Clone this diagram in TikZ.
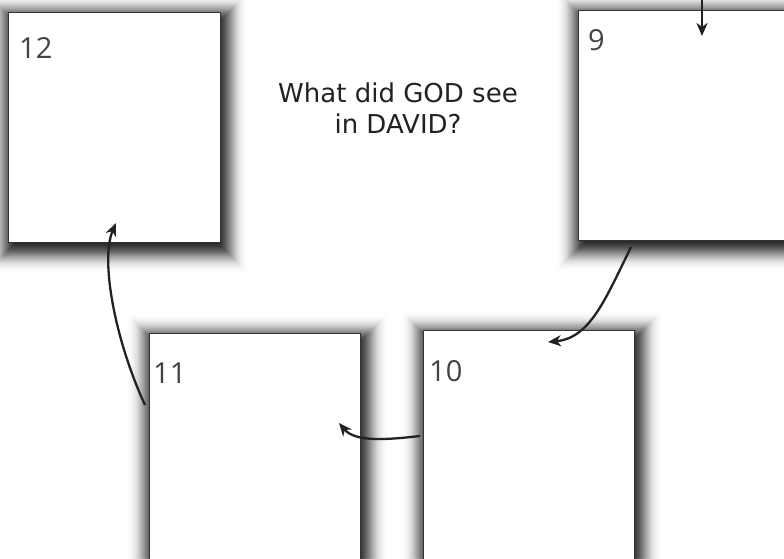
\documentclass[tikz,border=0pt]{standalone}
\usepackage{fontspec}
\newfontfamily\qfont{DejaVu Sans}
\newfontfamily\numfont{Open Sans}
\usetikzlibrary{arrows.meta,calc}
\pgfdeclarelayer{shadowlayer}
\pgfsetlayers{shadowlayer,main}
\definecolor{ink}{HTML}{222222}
\definecolor{edgegray}{HTML}{333333}
\tikzset{
  card/.style={draw=edgegray, line width=1pt, fill=white, anchor=north west,
    minimum width=212pt, minimum height=230pt, inner sep=0pt, outer sep=0pt},
  num/.style={font=\numfont\fontsize{29}{29}\selectfont, text=ink!85, anchor=base west, inner sep=0pt},
  question/.style={font=\qfont\fontsize{26}{31}\selectfont, text=ink, align=center, inner sep=0pt},
  flow/.style={line width=2.3pt, draw=ink, -{Stealth[length=13pt,width=11pt,inset=4pt]}},
}
\begin{document}
\begin{tikzpicture}[x=1pt,y=-1pt]
\useasboundingbox (0,0) rectangle (784,558);

% cards
\node[card] (b12) at (8,12) {};
\node[card] (b9) at (578,10) {};
\node[card, minimum width=211pt] (b10) at (423,330) {};
\node[card, minimum width=211pt] (b11) at (149,333) {};

% background and soft shadows
\begin{pgfonlayer}{shadowlayer}
\fill[white] (0,0) rectangle (784,558);
\foreach \b in {b12,b9,b10,b11}{
  \foreach \k [evaluate=\k as \op using {0.09*exp(-((\k)*(\k))/200)}] in {-25,...,25}{
    \fill[black, opacity=\op] ($(\b.north west)+(3-\k,6-\k)$) rectangle ($(\b.south east)+(3+\k,6+\k)$);
  }
}
\end{pgfonlayer}

% numbers
\node[num] (n12) at (19,58) {12};
\node[num] (n9) at (588,50) {9};
\node[num] (n10) at (429,381) {10};
\node[num] (n11) at (153,383) {11};

% question
\node[question, anchor=base] (q) at (398,133) {What did GOD see\\in DAVID?};

% connector ends
\coordinate (top9) at (702,-2);
\coordinate (in9) at (702,36);
\coordinate (out9) at (631,247);
\coordinate (in10) at (548,342);
\coordinate (out10) at (420,436);
\coordinate (in11) at (339,423);
\coordinate (out11) at (145,405);
\coordinate (in12) at (116,223);

\draw[flow] (top9) -- (in9);
\draw[flow] (out9) .. controls (605,300) and (590,338) .. (in10);
\draw[flow] (out10) .. controls (385,440) and (355,442) .. (in11);
\draw[flow] (out11) .. controls (115,340) and (100,260) .. (in12);
\end{tikzpicture}
\end{document}
